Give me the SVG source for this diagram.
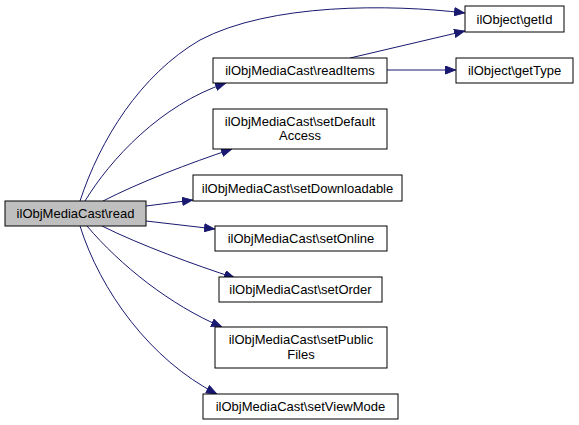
<svg xmlns="http://www.w3.org/2000/svg" width="579" height="425" viewBox="0 0 579 425">
<defs>
<style>
.n rect{fill:#fff;stroke:#000;stroke-width:1}
.n text{font-family:"Liberation Sans",Arial,sans-serif;font-size:13px;text-anchor:middle;fill:#000}
.e path{fill:none;stroke:#191970;stroke-width:1;marker-end:url(#a)}
</style>
<marker id="a" viewBox="0 0 11 9" refX="11" refY="4.5" markerWidth="11" markerHeight="9" markerUnits="userSpaceOnUse" orient="auto">
<path d="M0.5,0.5 L10.5,4.5 L0.5,8.5 Z" fill="#191970" stroke="#191970"/>
</marker>
</defs>
<rect width="579" height="425" fill="#fff"/>
<g class="e" id="edges">
<path d="M80,201 C100,140 140,75 200,40 C270,3 390,4 465,13"/>
<path d="M85,201 C110,160 160,105 226,83"/>
<path d="M103,201 C140,182 190,163 232,149"/>
<path d="M146,206 L193,200"/>
<path d="M146,221 L215,229"/>
<path d="M102,226 C140,245 195,265 235,278"/>
<path d="M87,226 C120,265 170,305 222,327"/>
<path d="M80,226 C100,290 150,360 217,394"/>
<path d="M350,58 L465,31"/>
<path d="M387,70 L456,70"/>
</g>
<g class="n" id="read"><rect x="5" y="201" width="141" height="25" style="fill:#bfbfbf"/><text x="75.5" y="218">ilObjMediaCast\read</text></g>
<g class="n" id="getId"><rect x="465" y="6" width="99" height="26"/><text x="514.5" y="23.5">ilObject\getId</text></g>
<g class="n" id="readItems"><rect x="213" y="58" width="174" height="25"/><text x="300" y="75">ilObjMediaCast\readItems</text></g>
<g class="n" id="getType"><rect x="456" y="58" width="117" height="25"/><text x="514.5" y="75">ilObject\getType</text></g>
<g class="n" id="setDefaultAccess"><rect x="213" y="109" width="174" height="40"/><text x="300" y="126">ilObjMediaCast\setDefault</text><text x="300" y="140">Access</text></g>
<g class="n" id="setDownloadable"><rect x="193" y="175" width="209" height="26"/><text x="297.5" y="192.5">ilObjMediaCast\setDownloadable</text></g>
<g class="n" id="setOnline"><rect x="215" y="226" width="172" height="25"/><text x="301" y="243">ilObjMediaCast\setOnline</text></g>
<g class="n" id="setOrder"><rect x="219" y="277" width="163" height="25"/><text x="300.5" y="294">ilObjMediaCast\setOrder</text></g>
<g class="n" id="setPublicFiles"><rect x="215" y="327" width="172" height="41"/><text x="301" y="344">ilObjMediaCast\setPublic</text><text x="301" y="359">Files</text></g>
<g class="n" id="setViewMode"><rect x="203" y="394" width="195" height="25"/><text x="300.5" y="411">ilObjMediaCast\setViewMode</text></g>
</svg>
